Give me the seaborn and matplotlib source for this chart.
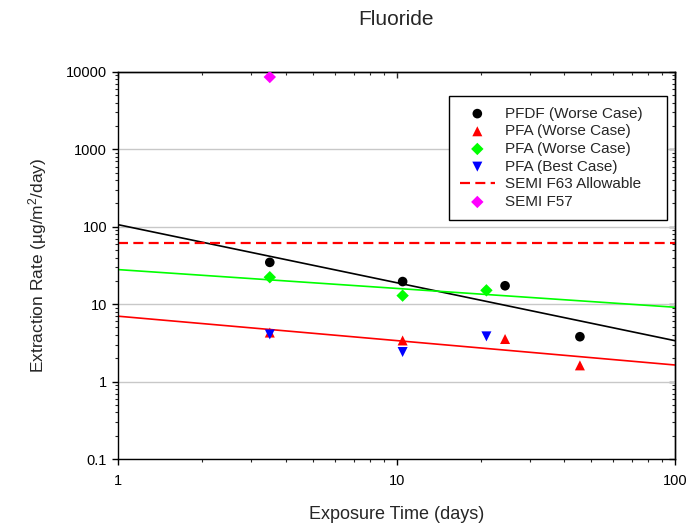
import numpy as np
import pandas as pd
import matplotlib
matplotlib.use("Agg")
import matplotlib.pyplot as plt
import seaborn as sns
from matplotlib.ticker import FixedLocator, FixedFormatter, LogLocator, NullFormatter

# Exposure time (days) and extraction rate (ug/m2/day) per series
pfdf_worse_days = [3.5, 10.5, 24.5, 45.5]
pfdf_worse_rate = [34.7, 19.6, 17.3, 3.8]

pfa_worse_red_days = [3.5, 10.5, 24.5, 45.5]
pfa_worse_red_rate = [4.3, 3.4, 3.55, 1.62]

pfa_worse_green_days = [3.5, 10.5, 21.0]
pfa_worse_green_rate = [22.3, 12.9, 15.1]

pfa_best_days = [3.5, 10.5, 21.0]
pfa_best_rate = [4.07, 2.41, 3.84]

semi_f63_allowable = 61.0
semi_f57_days = [3.5]
semi_f57_rate = [8600.0]

x_ticks = [1, 10, 100]
x_tick_labels = ["1", "10", "100"]
y_ticks = [0.1, 1, 10, 100, 1000, 10000]
y_tick_labels = ["0.1", "1", "10", "100", "1000", "10000"]

sns.set_style("white")
plt.rcParams["font.family"] = ["Liberation Sans", "DejaVu Sans"]
plt.rcParams["mathtext.fontset"] = "custom"
plt.rcParams["mathtext.rm"] = "Liberation Sans"
plt.rcParams["mathtext.default"] = "regular"

fig = plt.figure(figsize=(6.96, 5.27), dpi=100)
ax = fig.add_axes([0.170, 0.129, 0.800, 0.7345])
ax.set_xscale("log")
ax.set_yscale("log")
ax.set_xlim(1, 100)
ax.set_ylim(0.1, 10000)

# power-law trend lines fitted in log-log space
xfit = np.geomspace(1, 100, 60)
def power_fit(days, rate):
    slope, icpt = np.polyfit(np.log10(days), np.log10(rate), 1)
    return 10 ** (icpt + slope * np.log10(xfit))

for days, rate, col in [(pfdf_worse_days, pfdf_worse_rate, "black"),
                        (pfa_worse_green_days, pfa_worse_green_rate, "#00ff00"),
                        (pfa_worse_red_days, pfa_worse_red_rate, "#ff0000")]:
    sns.lineplot(x=xfit, y=power_fit(days, rate), color=col, lw=1.2,
                 ax=ax, label="_nolegend_", zorder=2)

ax.axhline(semi_f63_allowable, color="#ff0000", lw=1.6, dashes=(4.5, 2.4),
           label="SEMI F63 Allowable", zorder=2)

sns.scatterplot(x=pfdf_worse_days, y=pfdf_worse_rate, marker="o", s=48,
                color="black", edgecolor="none", label="PFDF (Worse Case)", ax=ax, zorder=3)
sns.scatterplot(x=pfa_worse_red_days, y=pfa_worse_red_rate, marker="^", s=52,
                color="#ff0000", edgecolor="none", label="PFA (Worse Case)", ax=ax, zorder=3)
sns.scatterplot(x=pfa_worse_green_days, y=pfa_worse_green_rate, marker="D", s=40,
                color="#00ff00", edgecolor="none", label="PFA (Worse Case)", ax=ax, zorder=3)
sns.scatterplot(x=pfa_best_days, y=pfa_best_rate, marker="v", s=52,
                color="#0000ff", edgecolor="none", label="PFA (Best Case)", ax=ax, zorder=3)
sns.scatterplot(x=semi_f57_days, y=semi_f57_rate, marker="D", s=40,
                color="#ff00ff", edgecolor="none", label="SEMI F57", ax=ax, zorder=3)

# axes, ticks and grid
for sp in ax.spines.values():
    sp.set_visible(True)
    sp.set_color("black")
    sp.set_linewidth(1.0)

ax.xaxis.set_major_locator(FixedLocator(x_ticks))
ax.xaxis.set_major_formatter(FixedFormatter(x_tick_labels))
ax.xaxis.set_minor_locator(LogLocator(base=10, subs=np.arange(2, 10)))
ax.xaxis.set_minor_formatter(NullFormatter())
ax.yaxis.set_major_locator(FixedLocator(y_ticks))
ax.yaxis.set_major_formatter(FixedFormatter(y_tick_labels))
ax.yaxis.set_minor_locator(LogLocator(base=10, subs=np.arange(2, 10)))
ax.yaxis.set_minor_formatter(NullFormatter())

ax.tick_params(which="major", direction="out", length=4, width=1, labelsize=10.5,
               colors="black", left=True, bottom=True)
ax.tick_params(which="minor", direction="out", length=2.5, width=0.8,
               left=True, bottom=True)
ax.tick_params(axis="x", which="major", pad=7)
ax.tick_params(axis="y", which="major", pad=4)

ax.grid(False)
ax.yaxis.grid(True, which="major", color="#c8c8c8", lw=1.0)
ax.set_axisbelow(True)

# mirrored inward ticks on top and right
top = ax.secondary_xaxis("top")
top.xaxis.set_major_locator(FixedLocator(x_ticks))
top.xaxis.set_minor_locator(LogLocator(base=10, subs=np.arange(2, 10)))
top.tick_params(which="major", direction="in", length=4, width=1, labeltop=False)
top.tick_params(which="minor", direction="in", length=2.5, width=0.8, labeltop=False)
top.spines["top"].set_linewidth(1.0)
right = ax.secondary_yaxis("right")
right.yaxis.set_major_locator(FixedLocator(y_ticks))
right.yaxis.set_minor_locator(LogLocator(base=10, subs=np.arange(2, 10)))
right.tick_params(which="major", direction="in", length=4, width=1, labelright=False)
right.tick_params(which="minor", direction="in", length=2.5, width=0.8, labelright=False)
right.spines["right"].set_linewidth(1.0)

ax.set_xlabel("Exposure Time (days)", fontsize=13, labelpad=13)
ax.set_ylabel("Extraction Rate ($\u00b5$g/m$^{2}$/day)", fontsize=12.5, labelpad=12)
fig.text(0.5685, 0.963, "Fluoride", ha="center", va="center", fontsize=15)

# legend in series order
handles, labels = ax.get_legend_handles_labels()
order = ["PFDF (Worse Case)", "PFA (Worse Case)", "PFA (Worse Case)",
         "PFA (Best Case)", "SEMI F63 Allowable", "SEMI F57"]
pairs = [(h, l) for h, l in zip(handles, labels) if not l.startswith("_")]
sorted_pairs = []
used = set()
for name in order:
    for i, (h, l) in enumerate(pairs):
        if l == name and i not in used:
            used.add(i)
            sorted_pairs.append((h, l))
            break
leg = ax.legend([h for h, _ in sorted_pairs], [l for _, l in sorted_pairs],
                loc="upper left", bbox_to_anchor=(0.594, 0.62, 0.3916, 0.318),
                mode="expand", fontsize=11,
                frameon=True, fancybox=False, edgecolor="black", framealpha=1,
                borderpad=0.7, labelspacing=0.24, handlelength=2.3,
                handletextpad=0.65, borderaxespad=0)
leg.get_frame().set_linewidth(1.0)

fig.savefig("out.png", dpi=100)
